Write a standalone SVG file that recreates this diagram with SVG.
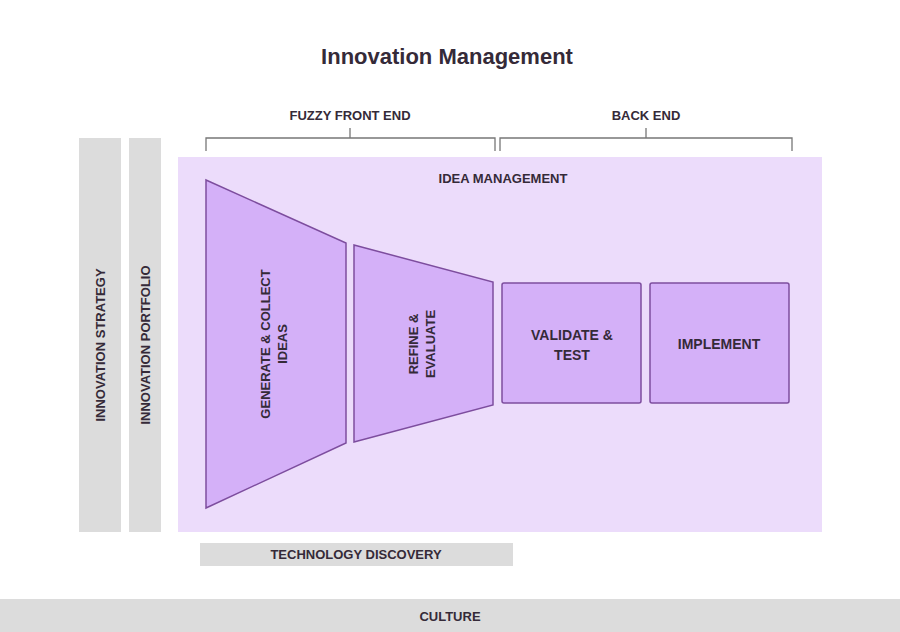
<svg xmlns="http://www.w3.org/2000/svg" width="900" height="632" viewBox="0 0 900 632">
<style>
text{font-family:"Liberation Sans",Arial,sans-serif;font-weight:bold;fill:#352a38;text-anchor:middle}
.l{font-size:14px}
.s{font-size:13px}
.gray{fill:#dcdcdc}
.step{fill:#d4b0f8;stroke:#7d4d9e;stroke-width:1.5}
.br{fill:none;stroke:#777;stroke-width:1.3}
</style>
<rect width="900" height="632" fill="#fff"/>
<text x="447" y="64" style="font-size:22px">Innovation Management</text>
<g id="connectors">
<path class="br" d="M206 151V138H495V151M350 138V128"/>
<path class="br" d="M500 151V138H792V151M646 138V128"/>
</g>
<text class="s" x="350" y="120">FUZZY FRONT END</text>
<text class="s" x="646" y="120">BACK END</text>
<g id="strategy"><rect class="gray" x="79" y="138" width="42" height="394"/><text class="s" transform="translate(105,345) rotate(-90)">INNOVATION STRATEGY</text></g>
<g id="portfolio"><rect class="gray" x="129" y="138" width="32" height="394"/><text class="s" transform="translate(150,345) rotate(-90)">INNOVATION PORTFOLIO</text></g>
<g id="idea-management"><rect x="178" y="157" width="644" height="375" fill="#ecdcfb"/><text class="s" x="503" y="183">IDEA MANAGEMENT</text></g>
<g id="generate"><polygon class="step" points="206,180 346,243 346,443 206,508"/><text class="s" transform="translate(270,344) rotate(-90)">GENERATE &amp; COLLECT<tspan x="0" dy="17">IDEAS</tspan></text></g>
<g id="refine"><polygon class="step" points="354,245 493,282 493,405 354,442"/><text class="s" transform="translate(418,344) rotate(-90)">REFINE &amp;<tspan x="0" dy="17">EVALUATE</tspan></text></g>
<g id="validate"><rect class="step" x="502" y="283" width="139" height="120" rx="2"/><text class="l" x="572" y="340">VALIDATE &amp;<tspan x="572" dy="20">TEST</tspan></text></g>
<g id="implement"><rect class="step" x="650" y="283" width="139" height="120" rx="2"/><text class="l" x="719" y="349">IMPLEMENT</text></g>
<g id="tech"><rect class="gray" x="200" y="543" width="313" height="23"/><text class="s" x="356" y="559">TECHNOLOGY DISCOVERY</text></g>
<g id="culture"><rect class="gray" x="0" y="599" width="900" height="33"/><text class="s" x="450" y="621">CULTURE</text></g>
</svg>
